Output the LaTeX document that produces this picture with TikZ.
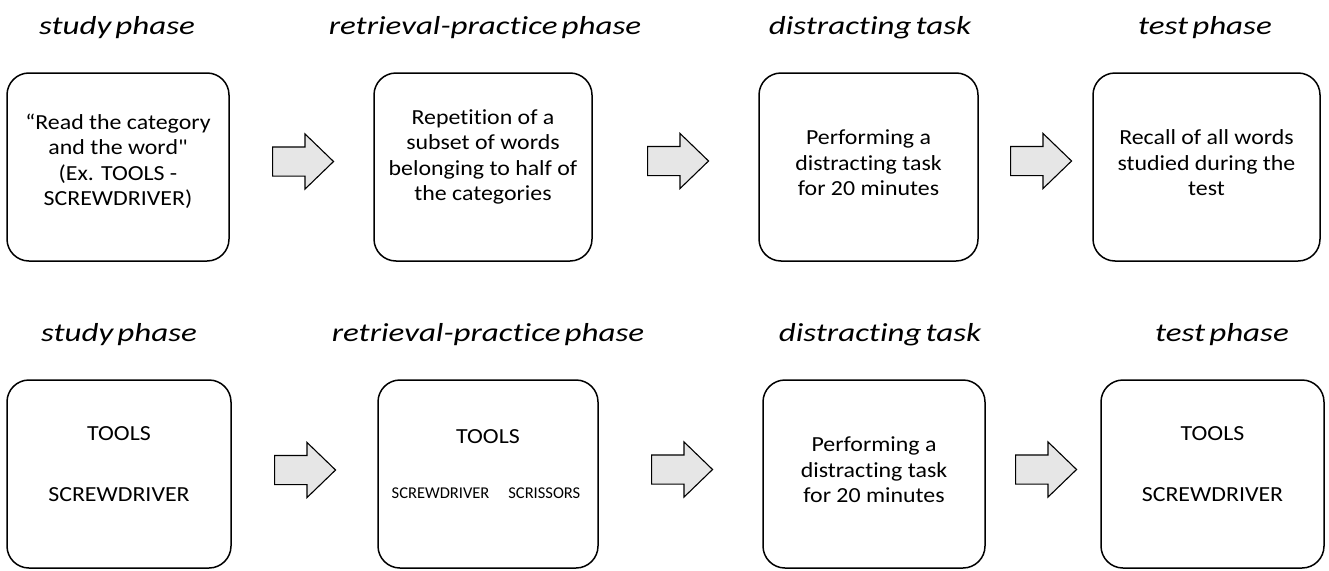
\documentclass[tikz,border=0pt]{standalone}
\usepackage{fontspec}
\setmainfont{Carlito}[Ligatures={TeXOff,CommonOff}]
\newfontfamily\boxfont{Carlito}[FakeStretch=1.11, Ligatures={TeXOff,CommonOff}]
\newfontfamily\titlefont{Carlito}[FakeStretch=1.27, WordSpace=0.55, Ligatures={TeXOff,CommonOff}]
\usetikzlibrary{shapes.arrows}
\definecolor{arrowfill}{RGB}{230,230,230}
\tikzset{
  stagebox/.style={draw=black, line width=1.5pt, rounded corners=22pt, minimum width=#1, minimum height=188pt, inner sep=0pt},
  boxtext/.style={align=center, inner sep=0pt, font=\boxfont\fontsize{21.5}{25.5}\selectfont},
  smalltext/.style={inner sep=0pt, font=\fontsize{16.5}{20}\selectfont},
  phasetitle/.style={inner sep=0pt, anchor=base, font=\titlefont\fontsize{26}{32}\selectfont\itshape},
  blockarrow/.style={single arrow, anchor=tail, draw=black, line width=1.1pt, fill=arrowfill, minimum height=61pt, minimum width=54pt, single arrow head extend=13pt, single arrow tip angle=88, inner xsep=0pt, inner ysep=14pt}
}
\begin{document}
\begin{tikzpicture}[x=1pt,y=-1pt]
\useasboundingbox (0,0) rectangle (1329,570);
% titles top
\node[phasetitle] (h1) at (117,34) {study phase};
\node[phasetitle] (h2) at (485,34) {retrieval-practice phase};
\node[phasetitle] (h3) at (870,34) {distracting task};
\node[phasetitle] (h4) at (1205,34) {test phase};
% titles bottom
\node[phasetitle] (g1) at (119,341) {study phase};
\node[phasetitle] (g2) at (488,341) {retrieval-practice phase};
\node[phasetitle] (g3) at (880,341) {distracting task};
\node[phasetitle] (g4) at (1222,341) {test phase};
% top boxes
\node[stagebox=222pt] (a1) at (118,167) {};
\node[stagebox=218pt] (a2) at (483,167) {};
\node[stagebox=219pt] (a3) at (868.5,167) {};
\node[stagebox=227pt] (a4) at (1206.5,167) {};
\node[boxtext] (ta1) at ([yshift=6pt]a1.center) {“Read the category\\and the word"\\(Ex. TOOLS -\\SCREWDRIVER)};
\node[boxtext] (ta2) at ([yshift=10pt]a2.center) {Repetition of a\\subset of words\\belonging to half of\\the categories};
\node[boxtext] (ta3) at ([yshift=4pt]a3.center) {Performing a\\distracting task\\for 20 minutes};
\node[boxtext] (ta4) at ([yshift=4pt]a4.center) {Recall of all words\\studied during the\\test};
% bottom boxes
\node[stagebox=224pt] (b1) at (119,474) {};
\node[stagebox=220pt] (b2) at (488,474) {};
\node[stagebox=222pt] (b3) at (874,474) {};
\node[stagebox=223pt] (b4) at (1212.5,474) {};
\node[boxtext] (tb1a) at (119,434) {TOOLS};
\node[boxtext] (tb1b) at (119,495) {SCREWDRIVER};
\node[boxtext] (tb2a) at (488,437) {TOOLS};
\node[smalltext] (tb2b) at (486,493) {SCREWDRIVER\hspace{19pt}SCRISSORS};
\node[boxtext] (tb3) at ([yshift=4pt]b3.center) {Performing a\\distracting task\\for 20 minutes};
\node[boxtext] (tb4a) at (1212.5,434) {TOOLS};
\node[boxtext] (tb4b) at (1212.5,495) {SCREWDRIVER};
% block arrows
\node[blockarrow] (p1) at (272,161.5) {};
\node[blockarrow] (p2) at (647,161) {};
\node[blockarrow] (p3) at (1010,161) {};
\node[blockarrow] (q1) at (274,470) {};
\node[blockarrow] (q2) at (651,469.5) {};
\node[blockarrow] (q3) at (1015,469.5) {};
\end{tikzpicture}
\end{document}
